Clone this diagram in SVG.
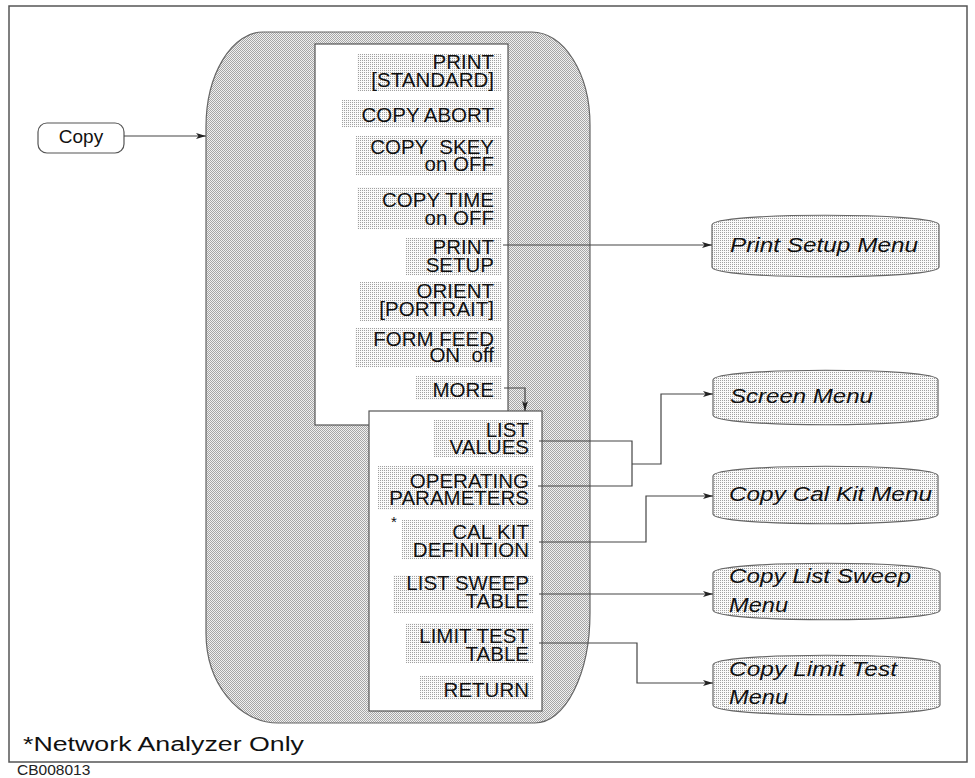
<svg xmlns="http://www.w3.org/2000/svg" width="975" height="778" viewBox="0 0 975 778">
<style>
.k{font-family:"Liberation Sans",Arial,sans-serif;font-size:20.5px;fill:#111;text-anchor:end}
.m{font-family:"Liberation Sans",Arial,sans-serif;font-size:20px;font-style:italic;fill:#111}
.c{fill:none;stroke:#444;stroke-width:1.2}
.bg{fill:url(#pL)}
.rb{fill:url(#pL);stroke:#666;stroke-width:1.2}
</style>
<defs>
<pattern id="pB" width="2" height="2" patternUnits="userSpaceOnUse"><rect width="2" height="2" fill="#f0f0f0"/><rect width="1" height="1" fill="#a6a6a6"/><rect x="1" y="1" width="1" height="1" fill="#a6a6a6"/></pattern>
<pattern id="pL" width="2" height="2" patternUnits="userSpaceOnUse"><rect width="2" height="2" fill="#fafafa"/><rect width="1" height="1" fill="#a0a0a0"/></pattern>
<marker id="ar" viewBox="0 0 10 6" refX="10" refY="3" markerWidth="10" markerHeight="6" markerUnits="userSpaceOnUse" orient="auto"><path d="M0,0 L10,3 L0,6 L2.5,3 Z" fill="#222"/></marker>
</defs>
<rect x="9" y="6" width="958" height="756" fill="#fff" stroke="#555" stroke-width="1.5"/>

<g id="softkey-menu">
<path d="M263,32 L532,32 A58,93 0 0 1 590,125 L590,613 A55,110 0 0 1 535,723 L278,723 A72,90 0 0 1 206,633 L206,127 A57,95 0 0 1 263,32 Z" fill="url(#pB)" stroke="#666" stroke-width="1.2"/>
<rect x="315" y="44" width="193" height="381" fill="#fff" stroke="#555" stroke-width="1.2"/>
<rect x="369" y="411" width="173" height="300" fill="#fff" stroke="#555" stroke-width="1.2"/>
</g>

<g id="key-print-standard"><rect class="bg" x="357" y="54" width="145" height="37"/><text class="k" x="494" y="69">PRINT</text><text class="k" x="494" y="87">[STANDARD]</text></g>
<g id="key-copy-abort"><rect class="bg" x="342" y="100" width="160" height="27"/><text class="k" x="494" y="122">COPY ABORT</text></g>
<g id="key-copy-skey"><rect class="bg" x="356" y="136" width="146" height="39"/><text class="k" x="494" y="154" xml:space="preserve">COPY  SKEY</text><text class="k" x="494" y="171">on OFF</text></g>
<g id="key-copy-time"><rect class="bg" x="357" y="187" width="145" height="42"/><text class="k" x="494" y="207">COPY TIME</text><text class="k" x="494" y="225">on OFF</text></g>
<g id="key-print-setup"><rect class="bg" x="406" y="238" width="96" height="37"/><text class="k" x="494" y="254">PRINT</text><text class="k" x="494" y="272">SETUP</text></g>
<g id="key-orient"><rect class="bg" x="360" y="282" width="142" height="39"/><text class="k" x="494" y="298">ORIENT</text><text class="k" x="494" y="316">[PORTRAIT]</text></g>
<g id="key-form-feed"><rect class="bg" x="355" y="328" width="147" height="39"/><text class="k" x="494" y="346">FORM FEED</text><text class="k" x="494" y="362" xml:space="preserve">ON  off</text></g>
<g id="key-more"><rect class="bg" x="416" y="376" width="86" height="24"/><text class="k" x="494" y="397">MORE</text></g>

<g id="key-list-values"><rect class="bg" x="434" y="420" width="99" height="37"/><text class="k" x="529" y="437">LIST</text><text class="k" x="529" y="454">VALUES</text></g>
<g id="key-operating-parameters"><rect class="bg" x="378" y="466" width="155" height="44"/><text class="k" x="529" y="488">OPERATING</text><text class="k" x="529" y="505">PARAMETERS</text></g>
<g id="key-cal-kit"><text x="391" y="527" style="font-family:'Liberation Sans',Arial,sans-serif;font-size:15px;fill:#111">*</text><rect class="bg" x="402" y="520" width="131" height="39"/><text class="k" x="529" y="539">CAL KIT</text><text class="k" x="529" y="557">DEFINITION</text></g>
<g id="key-list-sweep"><rect class="bg" x="393" y="575" width="140" height="38"/><text class="k" x="529" y="590">LIST SWEEP</text><text class="k" x="529" y="608">TABLE</text></g>
<g id="key-limit-test"><rect class="bg" x="406" y="623" width="127" height="40"/><text class="k" x="529" y="643">LIMIT TEST</text><text class="k" x="529" y="661">TABLE</text></g>
<g id="key-return"><rect class="bg" x="420" y="676" width="113" height="24"/><text class="k" x="529" y="697">RETURN</text></g>

<g id="copy-key"><rect x="38" y="123" width="86" height="30" rx="9" fill="#fff" stroke="#555" stroke-width="1.2"/><text x="81" y="143" text-anchor="middle" style="font-family:'Liberation Sans',Arial,sans-serif;font-size:19px;fill:#111">Copy</text></g>

<g id="print-setup-menu"><path class="rb" d="M712,225 C712,212 939,212 939,225 L939,267 C939,280 712,280 712,267 Z"/><text class="m" x="730" y="252" textLength="188" lengthAdjust="spacingAndGlyphs">Print Setup Menu</text></g>
<g id="screen-menu"><path class="rb" d="M713,380 C713,367 938,367 938,380 L938,415 C938,428 713,428 713,415 Z"/><text class="m" x="730" y="403" textLength="143" lengthAdjust="spacingAndGlyphs">Screen Menu</text></g>
<g id="copy-cal-kit-menu"><path class="rb" d="M713,476 C713,463 938,463 938,476 L938,514 C938,527 713,527 713,514 Z"/><text class="m" x="729" y="501" textLength="203" lengthAdjust="spacingAndGlyphs">Copy Cal Kit Menu</text></g>
<g id="copy-list-sweep-menu"><path class="rb" d="M713,573 C713,560 940,560 940,573 L940,610 C940,623 713,623 713,610 Z"/><text class="m" x="729" y="583" textLength="182" lengthAdjust="spacingAndGlyphs">Copy List Sweep</text><text class="m" x="729" y="612" textLength="59" lengthAdjust="spacingAndGlyphs">Menu</text></g>
<g id="copy-limit-test-menu"><path class="rb" d="M713,665 C713,652 940,652 940,665 L940,705 C940,718 713,718 713,705 Z"/><text class="m" x="729" y="676" textLength="168" lengthAdjust="spacingAndGlyphs">Copy Limit Test</text><text class="m" x="729" y="704" textLength="59" lengthAdjust="spacingAndGlyphs">Menu</text></g>

<g id="connectors">
<path class="c" d="M124,136 H206" marker-end="url(#ar)"/>
<path class="c" d="M503,245 H712" marker-end="url(#ar)"/>
<path class="c" d="M504,388 H525 V411" marker-end="url(#ar)"/>
<path class="c" d="M539,441 H632 V486 H538"/>
<path class="c" d="M632,464 H661 V394 H713" marker-end="url(#ar)"/>
<path class="c" d="M539,542 H646 V496 H713" marker-end="url(#ar)"/>
<path class="c" d="M539,594 H713" marker-end="url(#ar)"/>
<path class="c" d="M539,643 H637 V683 H713" marker-end="url(#ar)"/>
</g>

<text x="23" y="751" textLength="281" lengthAdjust="spacingAndGlyphs" style="font-family:'Liberation Sans',Arial,sans-serif;font-size:20px;fill:#111">*Network Analyzer Only</text>
<text x="17" y="775" style="font-family:'Liberation Sans',Arial,sans-serif;font-size:15.5px;fill:#222">CB008013</text>
</svg>
